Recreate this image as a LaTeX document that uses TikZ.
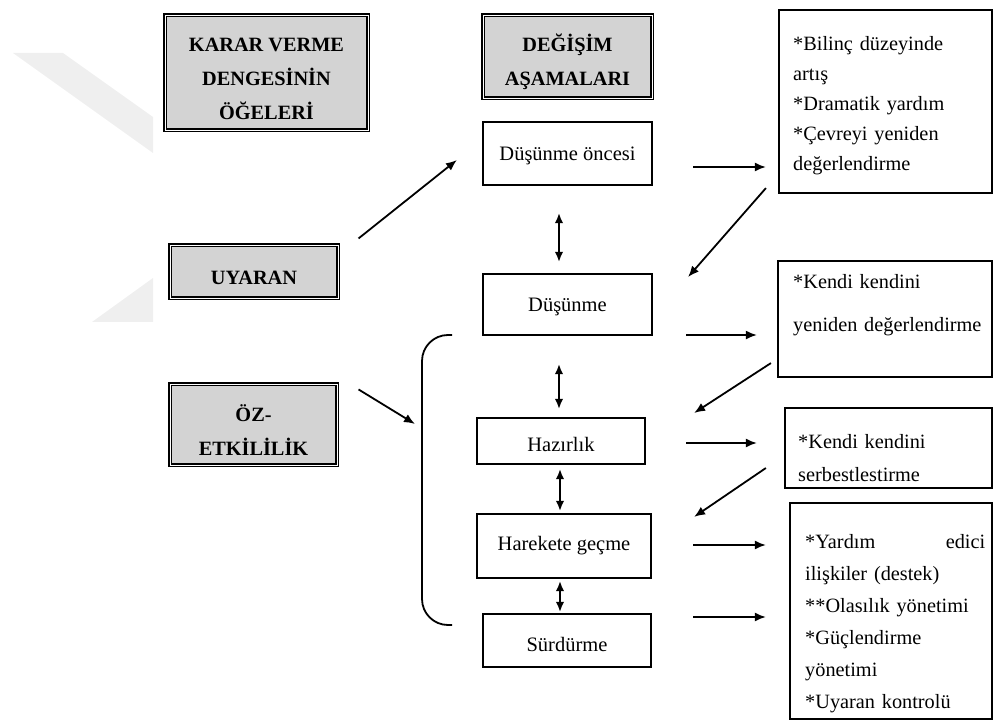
\documentclass[tikz,border=0pt]{standalone}
\usepackage{fontspec}
\setmainfont{Liberation Serif}
\usetikzlibrary{arrows.meta}
\definecolor{boxgray}{HTML}{D3D3D3}
\definecolor{wmgray}{HTML}{EFEFEF}
\newcommand{\toppad}[1]{\rule{0pt}{#1pt}}
\tikzset{
         graybox/.style={draw=black, double=white, line width=1.1pt, double distance=0.9pt,
                         fill=boxgray, align=center, inner sep=0pt,
                         font=\bfseries\fontsize{20.3}{34}\selectfont},
         stage/.style={draw, line width=2.2pt, inner sep=0pt, font=\fontsize{20.5}{24}\selectfont},
         rbox/.style={draw, line width=2.2pt, inner sep=0pt},
         rtext/.style={anchor=north west, align=left, inner sep=0pt},
         arr/.style={line width=1.8pt, -{Latex[length=11pt,width=9pt]}},
         darr/.style={line width=1.8pt, {Latex[length=10pt,width=8.5pt]}-{Latex[length=10pt,width=8.5pt]}}
        }
\begin{document}
\begin{tikzpicture}[x=1pt,y=-1pt]
\useasboundingbox (0,0) rectangle (994,722);

% faint watermark on the left
\fill[wmgray] (13,53) -- (63,53) -- (153,117) -- (153,153) -- cycle;
\fill[wmgray] (92,322) -- (153,278) -- (153,322) -- cycle;

%%% Left column
\node[graybox, minimum width=203, minimum height=115] (karar) at (266.5,72.5) {\toppad{26}KARAR VERME\\DENGES\.{I}N\.{I}N\\ÖĞELER\.{I}}; % title left
\node[graybox, minimum width=168, minimum height=53] (uyaran) at (254,271.5) {\toppad{26}UYARAN}; % stimulus
\node[graybox, minimum width=167, minimum height=81] (ozetk) at (253.5,424.5) {\toppad{28}ÖZ-\\ETK\.{I}L\.{I}L\.{I}K}; % self efficacy

%%% Middle column: stages
\node[graybox, minimum width=169, minimum height=83] (degisim) at (567.5,56.5) {\toppad{28}DEĞ\.{I}Ş\.{I}M\\AŞAMALARI}; % title middle
\node[stage, minimum width=169, minimum height=63] (oncesi) at (567.5,153.5) {\toppad{18}Düşünme öncesi};
\node[stage, minimum width=169, minimum height=61] (dusunme) at (567.5,304.5) {\toppad{18}Düşünme};
\node[stage, minimum width=168, minimum height=46] (hazirlik) at (561,441) {\toppad{22}Hazırlık};
\node[stage, minimum width=174, minimum height=64] (harekete) at (564,546) {Harekete geçme};
\node[stage, minimum width=168, minimum height=53] (surdurme) at (567,640.5) {\toppad{22}Sürdürme};

%%% Right column: processes
\node[rbox, minimum width=213, minimum height=183] (bilinc) at (885.5,101.5) {};
\node[rtext, text width=190, font=\fontsize{20.3}{30}\selectfont] (bilinctxt) at (793,36) {*Bilinç düzeyinde\\{}artış\\{}*Dramatik yardım\\{}*Çevreyi yeniden\\{}değerlendirme};
\node[rbox, minimum width=214, minimum height=116] (yeniden) at (885,319) {};
\node[rtext, text width=196, font=\fontsize{20.3}{43}\selectfont] (yenidentxt) at (793,274) {*Kendi kendini\\{}yeniden değerlendirme};
\node[rbox, minimum width=207, minimum height=80] (serbest) at (888.5,448) {};
\node[rtext, text width=185, font=\fontsize{20.3}{33}\selectfont] (serbesttxt) at (798,434) {*Kendi kendini\\{}serbestlestirme};
\node[rbox, minimum width=202, minimum height=216] (destek) at (891,611) {};
\node[rtext, text width=180, font=\fontsize{20.3}{32}\selectfont] (destektxt) at (805,534) {*Yardım \hfill edici\\{}ilişkiler (destek)\\{}**Olasılık yönetimi\\{}*Güçlendirme\\{}yönetimi\\{}*Uyaran kontrolü};

% bracket round the later stages
\draw[line width=1.8pt, rounded corners=26] (452,335) -- (422,335) -- (422,625) -- (452,625);
\coordinate (brk) at (415,424);

% left arrows
\draw[arr] ([shift={(20,-6)}]uyaran.north east) -- ([shift={(-25,6.5)}]oncesi.west);
\draw[arr] ([shift={(21,6)}]ozetk.north east) -- (brk);

% stage to stage
\draw[darr] ([shift={(-8.5,27)}]oncesi.south) -- ([shift={(-8.5,-11)}]dusunme.north);
\draw[darr] ([shift={(-8.5,28)}]dusunme.south) -- ([shift={(-2,-8)}]hazirlik.north);
\draw[darr] ([shift={(-1,4)}]hazirlik.south) -- ([shift={(-4,-2)}]harekete.north);
\draw[darr] ([shift={(-4,2)}]harekete.south) -- ([shift={(-7,-1)}]surdurme.north);

% right arrows
\draw[arr] ([shift={(40,13.5)}]oncesi.east) -- ([shift={(-12,65.5)}]bilinc.west);
\draw[arr] ([shift={(-12,-6)}]bilinc.south west) -- ([shift={(35,-27.5)}]dusunme.east);
\draw[arr] ([shift={(33,-1)}]dusunme.south east) -- ([shift={(-20,16)}]yeniden.west);
\draw[arr] ([shift={(-6,-15)}]yeniden.south west) -- ([shift={(48,-28)}]hazirlik.east);
\draw[arr] ([shift={(40,2)}]hazirlik.east) -- ([shift={(-27,-5)}]serbest.west);
\draw[arr] ([shift={(-18,20)}]serbest.west) -- ([shift={(42,4)}]harekete.north east);
\draw[arr] ([shift={(41,-1)}]harekete.east) -- ([shift={(-23,-66)}]destek.west);
\draw[arr] ([shift={(41,-23.5)}]surdurme.east) -- ([shift={(-23,6)}]destek.west);
\end{tikzpicture}
\end{document}
